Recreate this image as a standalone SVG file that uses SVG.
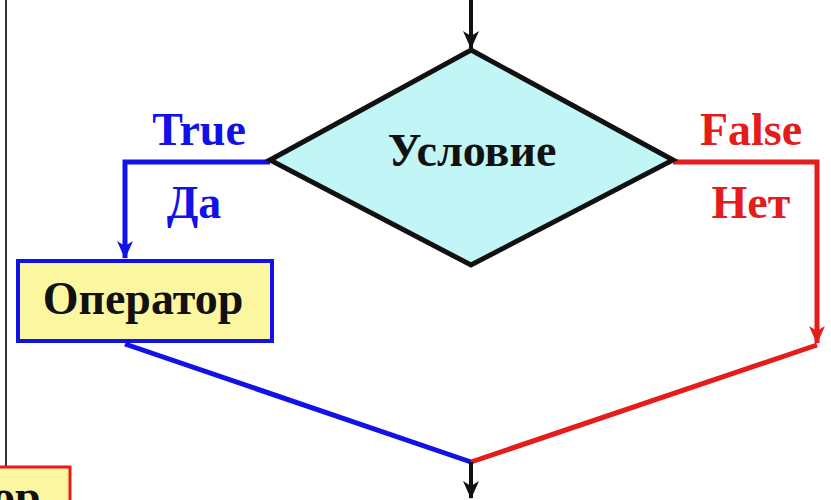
<svg xmlns="http://www.w3.org/2000/svg" width="831" height="500" viewBox="0 0 831 500">
<style>
  .t { font-family: "Liberation Serif", "Times New Roman", serif; font-weight: bold; font-size: 46px; text-anchor: middle; }
  .blue { fill: #1212e6; }
  .red { fill: #e61b1b; }
  .blk { fill: #111111; }
  .ln { fill: none; stroke-linejoin: miter; }
</style>
<defs>
  <marker id="ak" markerUnits="userSpaceOnUse" markerWidth="18" markerHeight="16" refX="17" refY="8" orient="auto">
    <path d="M0,0 L18,8 L0,16 L5,8 z" fill="#111111"/>
  </marker>
  <marker id="ab" markerUnits="userSpaceOnUse" markerWidth="18" markerHeight="16" refX="17" refY="8" orient="auto">
    <path d="M0,0 L18,8 L0,16 L5,8 z" fill="#1212e6"/>
  </marker>
  <marker id="ar" markerUnits="userSpaceOnUse" markerWidth="18" markerHeight="16" refX="17" refY="8" orient="auto">
    <path d="M0,0 L18,8 L0,16 L5,8 z" fill="#e61b1b"/>
  </marker>
</defs>
<rect width="831" height="500" fill="#ffffff"/>
<g id="frame">
  <line x1="6" y1="0" x2="6" y2="468" stroke="#333333" stroke-width="2"/>
</g>
<g id="connectors">
  <path class="ln" d="M471,0 V48" stroke="#111111" stroke-width="4" marker-end="url(#ak)"/>
  <path class="ln" d="M270,162 H125 V258" stroke="#1212e6" stroke-width="5" marker-end="url(#ab)"/>
  <path class="ln" d="M673,162 H817 V343" stroke="#e61b1b" stroke-width="5" marker-end="url(#ar)"/>
  <path class="ln" d="M125,344 L471,462" stroke="#1212e6" stroke-width="5"/>
  <path class="ln" d="M817,345 L471,462" stroke="#e61b1b" stroke-width="5"/>
  <path class="ln" d="M471,462 V498" stroke="#111111" stroke-width="4" marker-end="url(#ak)"/>
</g>
<g id="condition">
  <polygon points="471,50 673,160 471,265 270,160" fill="#c2f5f5" stroke="#111111" stroke-width="5" stroke-linejoin="miter"/>
  <text class="t blk" x="472" y="166">Условие</text>
</g>
<g id="label-true">
  <text class="t blue" x="199" y="145">True</text>
  <text class="t blue" x="194" y="218">Да</text>
</g>
<g id="label-false">
  <text class="t red" x="751" y="145">False</text>
  <text class="t red" x="751" y="218">Нет</text>
</g>
<g id="operator">
  <rect x="18" y="261" width="254" height="80" fill="#fbf7a0" stroke="#1212e6" stroke-width="4"/>
  <text class="t blk" x="143" y="314">Оператор</text>
</g>
<g id="operator2">
  <rect x="-10" y="467" width="80" height="50" fill="#fbf7a0" stroke="#e61b1b" stroke-width="3"/>
  <text class="t blk" x="-8" y="512" style="text-anchor:start">ор</text>
</g>
</svg>
